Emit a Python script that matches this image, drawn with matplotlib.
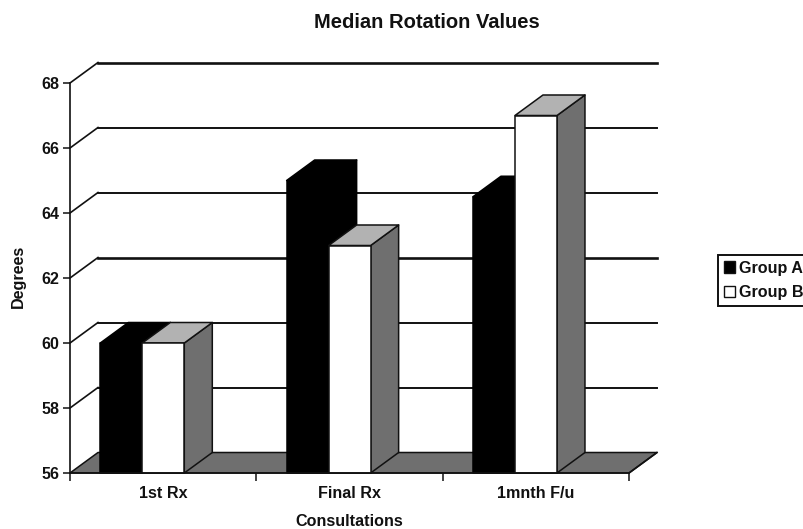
import matplotlib
matplotlib.use("Agg")
import matplotlib.pyplot as plt
from matplotlib.patches import Polygon, Patch

categories = ["1st Rx", "Final Rx", "1mnth F/u"]
group_a = [60, 65, 64.5]
group_b = [60, 63, 67]
y_ticks = [56, 58, 60, 62, 64, 66, 68]
series_names = ["Group A", "Group B"]

W, H = 804, 529
plt.rcParams["font.family"] = ["Liberation Sans", "DejaVu Sans"]
plt.rcParams["font.weight"] = "bold"
fig = plt.figure(figsize=(W / 100, H / 100), dpi=100, facecolor="white")
ax = fig.add_axes([70 / W, 1 - 473 / H, 559 / W, 390 / H])
ax.set_xlim(0, 3)
ax.set_ylim(56, 68)
ax.patch.set_visible(False)

DX = 28 / (559 / 3)      # depth offset in category units
DY = 20.5 / (390 / 12)   # depth offset in degrees
GAP = 30.3 / (559 / 3)
BW = 42 / (559 / 3)
GREY_SIDE = "#6f6f6f"
GREY_TOP = "#b2b2b2"
INK = "#111111"
FS = 11.6


def poly(pts, fc, z, ec=INK, lw=1.1):
    ax.add_patch(Polygon(pts, closed=True, facecolor=fc, edgecolor=ec,
                         linewidth=lw, zorder=z, clip_on=False, joinstyle="round"))


# floor
poly([(0, 56), (3, 56), (3 + DX, 56 + DY), (DX, 56 + DY)], GREY_SIDE, 1)

# back-wall grid lines with their left-wall slant
for t in y_ticks:
    if t > 56:
        ax.plot([0, DX], [t, t + DY], color=INK, lw=1.2, zorder=2, clip_on=False)
        ax.plot([DX, 3 + DX], [t + DY, t + DY], color=INK,
                lw=1.9 if t in (68, 62) else 1.4, zorder=2, clip_on=False)
ax.plot([3, 3 + DX], [56, 56 + DY], color=INK, lw=1.2, zorder=2, clip_on=False)


def bar3d(x0, val, front, top, side, ec, z):
    x1 = x0 + BW
    poly([(x1, 56), (x1 + DX, 56 + DY), (x1 + DX, val + DY), (x1, val)], side, z, ec)
    poly([(x0, val), (x1, val), (x1 + DX, val + DY), (x0 + DX, val + DY)], top, z, ec)
    poly([(x0, 56), (x1, 56), (x1, val), (x0, val)], front, z + 0.1, ec)


for i in range(len(categories)):
    bar3d(i + GAP, group_a[i], "black", "black", "black", "black", 3 + i)
    bar3d(i + GAP + BW, group_b[i], "white", GREY_TOP, GREY_SIDE, INK, 3.5 + i)

for s in ("top", "right"):
    ax.spines[s].set_visible(False)
for s in ("left", "bottom"):
    ax.spines[s].set_linewidth(1.2)
    ax.spines[s].set_color(INK)
    ax.spines[s].set_zorder(10)

ax.set_yticks(y_ticks)
ax.set_yticklabels([str(t) for t in y_ticks], fontsize=FS, fontweight="bold", color=INK)
ax.tick_params(axis="y", length=5, width=1.1, pad=2.5, color=INK)
ax.set_xticks(range(len(categories) + 1))
ax.set_xticklabels([])
ax.tick_params(axis="x", which="major", length=6, width=1.1, color=INK)
ax.set_xticks([i + 0.5 for i in range(len(categories))], minor=True)
ax.set_xticklabels(categories, minor=True, fontsize=FS, fontweight="bold", color=INK)
ax.tick_params(axis="x", which="minor", length=0, pad=9)

fig.text(349 / W, 1 - 521 / H, "Consultations", ha="center", va="center",
         fontsize=FS, fontweight="bold", color=INK)
fig.text(18 / W, 1 - 276 / H, "Degrees", ha="center", va="center", rotation=90,
         fontsize=FS, fontweight="bold", color=INK)
fig.text(427 / W, 1 - 22 / H, "Median Rotation Values", ha="center", va="center",
         fontsize=14.5, fontweight="bold", color=INK)

handles = [Patch(facecolor="black", edgecolor=INK, lw=1),
           Patch(facecolor="white", edgecolor=INK, lw=1)]
leg = fig.legend(handles, series_names, loc="upper left",
                 bbox_to_anchor=(718 / W, 1 - 255 / H), bbox_transform=fig.transFigure,
                 fontsize=FS, frameon=True, fancybox=False, edgecolor=INK, framealpha=1,
                 handlelength=0.72, handleheight=0.72, handletextpad=0.25, labelspacing=0.6,
                 borderaxespad=0, borderpad=0.35)
leg.get_frame().set_linewidth(1.4)
for t in leg.get_texts():
    t.set_color(INK)

fig.savefig("out.png", dpi=100)
